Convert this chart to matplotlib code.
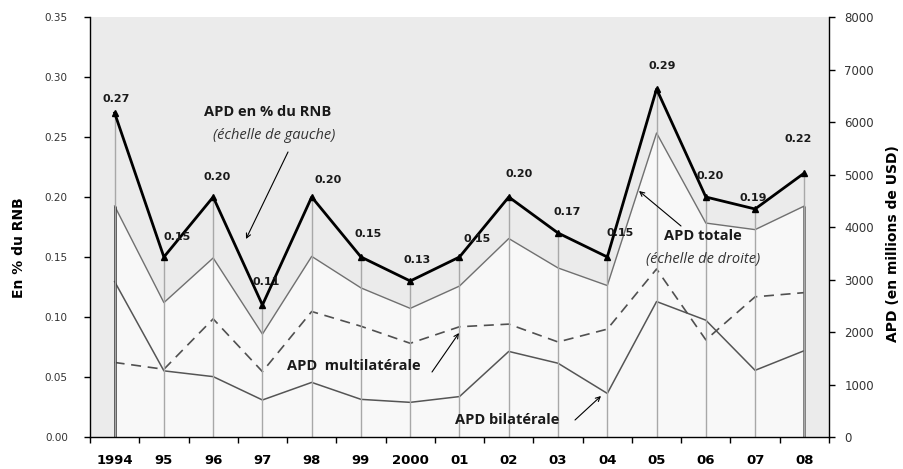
import numpy as np
import matplotlib
matplotlib.use("Agg")
import matplotlib.pyplot as plt

# Years (category labels)
years = ["1994", "95", "96", "97", "98", "99", "2000", "01", "02", "03", "04",
         "05", "06", "07", "08"]

# ODA as % of GNI (left scale)
oda_pct_gni = [0.27, 0.15, 0.20, 0.11, 0.20, 0.15, 0.13, 0.15, 0.20, 0.17,
               0.15, 0.29, 0.20, 0.19, 0.22]

# ODA in millions of USD (right scale)
oda_total = [4400, 2560, 3410, 1960, 3440, 2840, 2450, 2875, 3780, 3220,
             2885, 5790, 4075, 3950, 4400]
oda_bilateral = [2960, 1260, 1150, 705, 1040, 717, 660, 770, 1630, 1405,
                 830, 2580, 2225, 1270, 1645]
oda_multilateral = [1420, 1290, 2250, 1245, 2390, 2110, 1785, 2100, 2150, 1810,
                    2055, 3200, 1850, 2670, 2750]

x = np.arange(len(years))

fig = plt.figure(figsize=(9.04, 4.69), dpi=100)
ax = fig.add_axes([90 / 904, 32 / 469, 739 / 904, 420 / 469])
ax2 = ax.twinx()

# Right-scale axes carries the grey background and the ODA areas/lines
ax.set_zorder(ax2.get_zorder() + 1)
ax.patch.set_visible(False)
ax2.patch.set_visible(True)
ax2.patch.set_facecolor("#ebebeb")

ax2.fill_between(x, 0, oda_total, color="#f8f8f8", lw=0, zorder=1)
ax2.plot(x, oda_total, color="#707070", lw=1.0, zorder=3)
ax2.plot(x, oda_bilateral, color="#555555", lw=1.1, zorder=3)
ax2.plot(x, oda_multilateral, color="#505050", lw=1.2, ls=(0, (6, 4)), zorder=3)
ax2.vlines(x[0], 0, oda_total[0], color="#202020", lw=1.8, zorder=4)
ax2.vlines(x[-1], 0, oda_total[-1], color="#555555", lw=1.8, zorder=4)

# Drop lines and ODA/GNI line (left scale)
ax.vlines(x, 0, oda_pct_gni, color="#a8a8a8", lw=1.0, zorder=1)
ax.plot(x, oda_pct_gni, color="black", lw=2.0, marker="^", ms=5,
        markerfacecolor="black", zorder=5)

label_offsets = [(2, 14), (13, 20), (4, 20), (4, 23), (16, 17), (7, 23),
                 (7, 21), (18, 18), (10, 23), (9, 21), (13, 24), (6, 23),
                 (4, 21), (-2, 11), (-6, 34)]
for xi, v, (dx, dy) in zip(x, oda_pct_gni, label_offsets):
    ax.annotate(f"{v:.2f}", (xi, v), xytext=(dx, dy), textcoords="offset pixels",
                ha="center", va="center", fontsize=8, fontweight="bold",
                color="#1a1a1a", zorder=6)

# Axes limits and ticks
ax.set_xlim(-0.5, len(years) - 0.5)
ax.set_ylim(0, 0.35)
ax2.set_ylim(0, 8000)

ax.set_xticks(np.arange(-0.5, len(years), 1.0))
ax.set_xticklabels([])
ax.set_xticks(x, minor=True)
ax.set_xticklabels(years, minor=True, fontsize=9.5, fontweight="bold")
ax.tick_params(axis="x", which="major", direction="out", length=4, width=1)
ax.tick_params(axis="x", which="minor", length=0, pad=12)

ax.set_yticks(np.arange(0, 0.351, 0.05))
ax.set_yticklabels([f"{v:.2f}" for v in np.arange(0, 0.351, 0.05)])
ax.tick_params(axis="y", direction="out", length=4, width=1, pad=12,
               labelsize=7.5, labelcolor="#333333")
ax2.set_yticks(np.arange(0, 8001, 1000))
ax2.tick_params(axis="y", direction="out", length=4, width=1, pad=7,
                labelsize=8.5, labelcolor="#333333")

for a in (ax, ax2):
    a.spines["top"].set_visible(False)
ax.spines["right"].set_visible(False)
ax2.spines["left"].set_visible(False)
ax2.spines["bottom"].set_visible(False)
for s in ("left", "bottom"):
    ax.spines[s].set_linewidth(1.0)
ax2.spines["right"].set_linewidth(1.0)

ax.set_ylabel("En % du RNB", fontsize=10, fontweight="bold")
ax.yaxis.set_label_coords(-0.086, 0.45)
ax2.set_ylabel("APD (en millions de USD)", fontsize=10, fontweight="bold")
ax2.yaxis.set_label_coords(1.077, 0.46)

# Series annotations (placed in figure pixel coordinates)
def fig_xy(px, py):
    return (px / 904, 1 - py / 469)

ann_font = "Open Sans"
arrow = dict(arrowstyle="->", color="black", lw=0.8, shrinkA=0, shrinkB=0,
             mutation_scale=8)

fig.text(*fig_xy(268, 112), "APD en % du RNB", family=ann_font, fontsize=10.5,
         fontweight="bold", ha="center", va="center", color="#1a1a1a")
fig.text(*fig_xy(274, 135), "(échelle de gauche)", family=ann_font, fontsize=10.5,
         style="italic", ha="center", va="center", color="#333333")
ax.annotate("", xy=fig_xy(246, 239), xycoords="figure fraction",
            xytext=fig_xy(288, 152), textcoords="figure fraction",
            arrowprops=arrow)

fig.text(*fig_xy(354, 366), "APD  multilatérale", family=ann_font, fontsize=10.5,
         fontweight="bold", ha="center", va="center", color="#1a1a1a")
ax.annotate("", xy=fig_xy(459, 333), xycoords="figure fraction",
            xytext=fig_xy(432, 372), textcoords="figure fraction",
            arrowprops=arrow)

fig.text(*fig_xy(507, 420), "APD bilatérale", family=ann_font, fontsize=10.5,
         fontweight="bold", ha="center", va="center", color="#1a1a1a")
ax.annotate("", xy=fig_xy(601, 396), xycoords="figure fraction",
            xytext=fig_xy(575, 420), textcoords="figure fraction",
            arrowprops=arrow)

fig.text(*fig_xy(703, 236), "APD totale", family=ann_font, fontsize=10.5,
         fontweight="bold", ha="center", va="center", color="#1a1a1a")
fig.text(*fig_xy(703, 260), "(échelle de droite)", family=ann_font, fontsize=10.5,
         style="italic", ha="center", va="center", color="#333333")
ax.annotate("", xy=fig_xy(639, 191), xycoords="figure fraction",
            xytext=fig_xy(681, 226), textcoords="figure fraction",
            arrowprops=arrow)

fig.savefig("out.png", dpi=100)
